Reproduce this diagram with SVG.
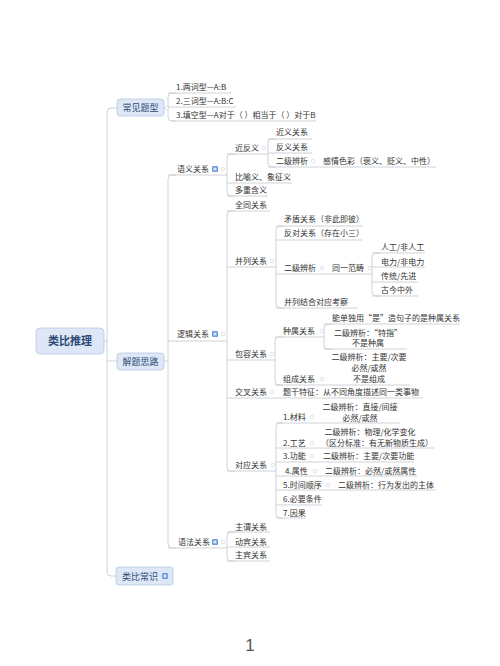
<svg xmlns="http://www.w3.org/2000/svg" width="500" height="666" viewBox="0 0 500 666">
<style>
.t{font-family:"Noto Sans CJK SC","Liberation Sans",sans-serif;font-size:8px;fill:#333}
.m{text-anchor:middle}
.bx{fill:#dde7f6;stroke:#b9c9e2;stroke-width:0.8}
.bt{font-family:"Noto Sans CJK SC","Liberation Sans",sans-serif;font-size:9px;fill:#2e4a78;text-anchor:middle}
.rt{font-family:"Noto Sans CJK SC","Liberation Sans",sans-serif;font-size:11px;font-weight:bold;fill:#2e4a78;text-anchor:middle}
.ln{fill:none;stroke:#c9cdd3;stroke-width:0.9}
.cc{fill:#fff;stroke:#d2d5da;stroke-width:0.7}
</style>
<defs>
<g id="ic"><rect x="0" y="0" width="6" height="6" rx="1" fill="#6f9be0"/><rect x="1.6" y="1.6" width="2.8" height="2.8" fill="#dce8fa"/></g>
</defs>
<rect width="500" height="666" fill="#fff"/>
<g id="connectors">
<path class="ln" d="M104,341 H107"/>
<path class="ln" d="M117,108 H111 Q107,108 107,112 V572 Q107,576 111,576 H116"/>
<path class="ln" d="M107,361 H117"/>
<path class="ln" d="M164,108 H168"/>
<path class="ln" d="M176,93 H172 Q168,93 168,97 V117 Q168,121 172,121 H176"/>
<path class="ln" d="M168,107 H236 M168,93 H231 M172,121 H316"/>
<path class="ln" d="M164,361 H168"/>
<path class="ln" d="M176,175 H172 Q168,175 168,179 V544 Q168,548 172,548 H176"/>
<path class="ln" d="M168,175 H227 M168,341 H227 M168,548 H227"/>
<path class="ln" d="M235,154 H231 Q227,154 227,158 V192 Q227,196 231,196 H235"/>
<path class="ln" d="M227,154 H268 M227,183 H292 M227,196 H268"/>
<path class="ln" d="M276,139 H272 Q268,139 268,143 V163 Q268,167 272,167 H276"/>
<path class="ln" d="M268,139 H312 M268,153 H312 M268,167 H436"/>
<path class="ln" d="M235,211 H231 Q227,211 227,215 V467 Q227,471 231,471 H235"/>
<path class="ln" d="M227,211 H270 M227,267 H276 M227,360 H275 M227,398 H423 M227,471 H276"/>
<path class="ln" d="M284,226 H280 Q276,226 276,230 V304 Q276,308 280,308 H284"/>
<path class="ln" d="M276,226 H363 M276,240 H362 M276,274 H372 M276,308 H358"/>
<path class="ln" d="M381,253 H376 Q372,253 372,257 V292 Q372,296 376,296 H381"/>
<path class="ln" d="M372,253 H425 M372,267 H425 M372,282 H418 M372,296 H418"/>
<path class="ln" d="M283,337 H279 Q275,337 275,341 V381 Q275,385 279,385 H283"/>
<path class="ln" d="M275,337 H324 M275,385 H410"/>
<path class="ln" d="M332,324 H328 Q324,324 324,328 V345 Q324,349 328,349 H332"/>
<path class="ln" d="M324,324 H460 M324,349 H407"/>
<path class="ln" d="M283,423 H280 Q276,423 276,427 V514 Q276,518 280,518 H283"/>
<path class="ln" d="M276,423 H400 M276,448 H434 M276,462 H414 M276,476 H417 M276,490 H436 M276,505 H322 M276,518 H306"/>
<path class="ln" d="M235,532 H231 Q227,532 227,536 V557 Q227,561 231,561 H235"/>
<path class="ln" d="M227,532 H270 M227,547 H270 M227,561 H270"/>
<circle class="cc" cx="167" cy="108" r="1.8"/>
<circle class="cc" cx="223" cy="169" r="1.8"/>
<circle class="cc" cx="264" cy="148" r="1.8"/>
<circle class="cc" cx="313" cy="161" r="1.8"/>
<circle class="cc" cx="223" cy="334" r="1.8"/>
<circle class="cc" cx="272" cy="261" r="1.8"/>
<circle class="cc" cx="322" cy="268" r="1.8"/>
<circle class="cc" cx="370" cy="268" r="1.8"/>
<circle class="cc" cx="272" cy="354" r="1.8"/>
<circle class="cc" cx="322" cy="331" r="1.8"/>
<circle class="cc" cx="322" cy="379" r="1.8"/>
<circle class="cc" cx="272" cy="392" r="1.8"/>
<circle class="cc" cx="273" cy="465" r="1.8"/>
<circle class="cc" cx="312" cy="417" r="1.8"/>
<circle class="cc" cx="312" cy="443" r="1.8"/>
<circle class="cc" cx="312" cy="456" r="1.8"/>
<circle class="cc" cx="315" cy="471" r="1.8"/>
<circle class="cc" cx="328" cy="485" r="1.8"/>
<circle class="cc" cx="223" cy="542" r="1.8"/>
</g>
<g id="root"><rect class="bx" x="36" y="328" width="68" height="26" rx="4"/><text class="rt" x="70" y="345">类比推理</text></g>
<g id="n-changjian"><rect class="bx" x="117" y="99" width="47" height="17" rx="3"/><text class="bt" x="140.5" y="110.5">常见题型</text></g>
<g id="n-jieti"><rect class="bx" x="117" y="353" width="47" height="17" rx="3"/><text class="bt" x="140.5" y="364.5">解题思路</text></g>
<g id="n-leibi"><rect class="bx" x="116" y="567" width="57" height="18" rx="3"/><text class="bt" x="140" y="579.5">类比常识</text><use href="#ic" x="162" y="573"/></g>
<g id="n-t1"><text class="t" x="176" y="90">1.两词型—A:B</text></g>
<g id="n-t2"><text class="t" x="176" y="104">2.三词型—A:B:C</text></g>
<g id="n-t3"><text class="t" x="176" y="118">3.填空型—A对于（ ）相当于（ ）对于B</text></g>
<g id="n-yuyi"><text class="t" x="177" y="172">语义关系</text><use href="#ic" x="212" y="166"/></g>
<g id="n-jinfan"><text class="t" x="235" y="151">近反义</text></g>
<g id="n-jinyi"><text class="t" x="276" y="135">近义关系</text></g>
<g id="n-fanyi"><text class="t" x="276" y="150">反义关系</text></g>
<g id="n-erji1"><text class="t" x="276" y="164">二级辨析</text></g>
<g id="n-ganqing"><text class="t" x="323" y="164">感情色彩（褒义、贬义、中性）</text></g>
<g id="n-biyu"><text class="t" x="235" y="180">比喻义、象征义</text></g>
<g id="n-duochong"><text class="t" x="235" y="193">多重含义</text></g>
<g id="n-luoji"><text class="t" x="177" y="337">逻辑关系</text><use href="#ic" x="212" y="331"/></g>
<g id="n-quantong"><text class="t" x="235" y="208">全同关系</text></g>
<g id="n-binglie"><text class="t" x="235" y="264">并列关系</text></g>
<g id="n-maodun"><text class="t" x="284" y="222">矛盾关系（非此即彼）</text></g>
<g id="n-fandui"><text class="t" x="284" y="236">反对关系（存在小三）</text></g>
<g id="n-erji2"><text class="t" x="284" y="271">二级辨析</text></g>
<g id="n-tongyi"><text class="t" x="332" y="271">同一范畴</text></g>
<g id="n-rengong"><text class="t" x="381" y="250">人工/非人工</text></g>
<g id="n-dianli"><text class="t" x="381" y="265">电力/非电力</text></g>
<g id="n-chuantong"><text class="t" x="381" y="279">传统/先进</text></g>
<g id="n-gujin"><text class="t" x="381" y="293">古今中外</text></g>
<g id="n-jiehe"><text class="t" x="284" y="305">并列结合对应考察</text></g>
<g id="n-baorong"><text class="t" x="235" y="357">包容关系</text></g>
<g id="n-zhongshu"><text class="t" x="283" y="334">种属关系</text></g>
<g id="n-nengdan"><text class="t" x="332" y="321">能单独用“是”造句子的是种属关系</text></g>
<g id="n-tezhi"><text class="t m" x="368" y="336">二级辨析：“特指”</text><text class="t m" x="368" y="346">不是种属</text></g>
<g id="n-zucheng"><text class="t" x="283" y="382">组成关系</text></g>
<g id="n-zhuyao"><text class="t m" x="369" y="360">二级辨析：主要/次要</text><text class="t m" x="369" y="371">必然/或然</text><text class="t m" x="369" y="382">不是组成</text></g>
<g id="n-jiaocha"><text class="t" x="235" y="395">交叉关系</text></g>
<g id="n-tigan"><text class="t" x="283" y="395">题干特征：从不同角度描述同一类事物</text></g>
<g id="n-duiying"><text class="t" x="235" y="468">对应关系</text></g>
<g id="n-cailiao"><text class="t" x="283" y="420">1.材料</text></g>
<g id="n-cailiao-c"><text class="t m" x="360" y="410">二级辨析：直接/间接</text><text class="t m" x="360" y="421">必然/或然</text></g>
<g id="n-gongyi"><text class="t" x="283" y="446">2.工艺</text></g>
<g id="n-gongyi-c"><text class="t m" x="370" y="435">二级辨析：物理/化学变化</text><text class="t m" x="377" y="446">（区分标准：有无新物质生成）</text></g>
<g id="n-gongneng"><text class="t" x="283" y="459">3.功能</text></g>
<g id="n-gongneng-c"><text class="t" x="323" y="459">二级辨析：主要/次要功能</text></g>
<g id="n-shuxing"><text class="t" x="285" y="474">4.属性</text></g>
<g id="n-shuxing-c"><text class="t" x="325" y="474">二级辨析：必然/或然属性</text></g>
<g id="n-shijian"><text class="t" x="283" y="488">5.时间顺序</text></g>
<g id="n-shijian-c"><text class="t" x="338" y="488">二级辨析：行为发出的主体</text></g>
<g id="n-biyao"><text class="t" x="283" y="502">6.必要条件</text></g>
<g id="n-yinguo"><text class="t" x="283" y="516">7.因果</text></g>
<g id="n-yufa"><text class="t" x="178" y="545">语法关系</text><use href="#ic" x="212" y="539"/></g>
<g id="n-zhuwei"><text class="t" x="235" y="530">主谓关系</text></g>
<g id="n-dongbin"><text class="t" x="235" y="545">动宾关系</text></g>
<g id="n-zhubin"><text class="t" x="235" y="558">主宾关系</text></g>
<text x="250" y="651" font-family="Liberation Sans, sans-serif" font-size="17" fill="#555" text-anchor="middle">1</text>
</svg>
